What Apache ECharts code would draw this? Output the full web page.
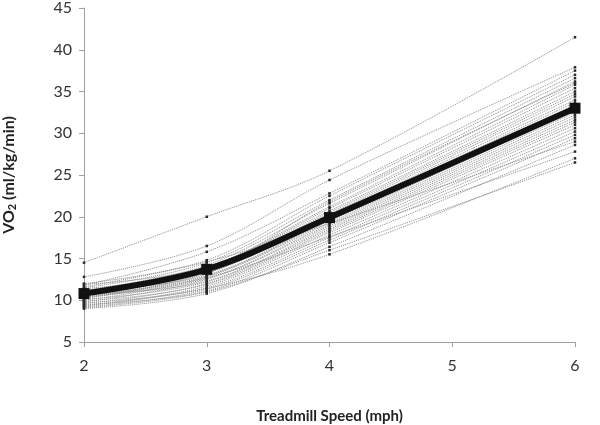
<!DOCTYPE html>
<html>
<head>
<meta charset="utf-8">
<script src="https://cdn.jsdelivr.net/npm/echarts@6/dist/echarts.min.js"></script>
<style>html,body{margin:0;padding:0;background:#fff}#c{width:600px;height:425px}</style>
</head>
<body>
<div id="c"></div>
<script>
var speeds = [2, 3, 4, 6];
var xTicks = [2, 3, 4, 5, 6];
var yTicks = [5, 10, 15, 20, 25, 30, 35, 40, 45];
var meanVO2 = [10.8, 13.7, 19.9, 33.0];
var subjects = [
  [14.5, 20.0, 25.5, 41.5],
  [12.8, 16.5, 24.4, 37.9],
  [11.8, 15.8, 22.8, 37.5],
  [12.0, 14.8, 22.5, 37.0],
  [11.5, 14.5, 22.0, 36.6],
  [11.2, 14.2, 21.6, 36.2],
  [11.9, 14.0, 21.2, 35.8],
  [11.0, 13.8, 21.0, 35.4],
  [10.8, 13.9, 20.7, 35.0],
  [11.4, 13.6, 20.5, 34.7],
  [10.5, 13.5, 20.3, 34.4],
  [10.9, 13.3, 20.1, 34.0],
  [10.2, 13.2, 19.9, 33.7],
  [11.1, 13.0, 19.7, 33.4],
  [10.6, 12.9, 19.5, 33.1],
  [10.0, 12.8, 19.3, 32.8],
  [10.4, 12.6, 19.1, 32.5],
  [9.8, 12.5, 18.9, 32.2],
  [10.7, 12.3, 18.7, 31.9],
  [10.1, 12.2, 18.5, 31.6],
  [9.6, 12.0, 18.3, 31.3],
  [9.9, 11.9, 18.1, 31.0],
  [9.4, 11.7, 17.8, 30.6],
  [9.7, 11.5, 17.5, 30.2],
  [9.2, 11.3, 17.2, 29.8],
  [9.5, 11.1, 16.9, 29.4],
  [9.0, 10.8, 16.4, 28.6],
  [9.3, 11.4, 15.5, 27.0],
  [9.1, 11.0, 16.0, 26.5],
  [10.3, 12.7, 17.6, 27.8],
  [11.6, 14.6, 19.2, 29.0],
  [10.4, 13.4, 21.8, 36.0]
];
var xTitle = 'Treadmill Speed (mph)';

function pairs(vals) { return speeds.map(function (s, i) { return [s, vals[i]]; }); }

var series = subjects.map(function (v) {
  return {
    type: 'line', data: pairs(v), smooth: 0.35,
    symbol: 'rect', symbolSize: 2.5,
    itemStyle: { color: '#2a2a2a' },
    lineStyle: { color: '#8a8a8a', width: 1, type: 'dotted' },
    emphasis: { disabled: true }, silent: true, z: 2
  };
});
series.push({
  type: 'line', data: pairs(meanVO2), smooth: 0.35,
  symbol: 'rect', symbolSize: 11,
  itemStyle: { color: '#111' },
  lineStyle: { color: '#111', width: 6 },
  silent: true, z: 5
});

var font = 'Lato, "Open Sans", sans-serif';
var chart = echarts.init(document.getElementById('c'), null, { renderer: 'canvas' });
chart.setOption({
  animation: false,
  backgroundColor: '#fff',
  grid: { left: 84, right: 25, top: 8, bottom: 83, containLabel: false, outerBoundsMode: 'none' },
  xAxis: {
    type: 'value', min: 2, max: 6, interval: 1,
    name: xTitle, nameLocation: 'middle', nameGap: 67,
    nameTextStyle: { fontFamily: font, fontWeight: 'bold', fontSize: 15, color: '#222' },
    axisLine: { lineStyle: { color: '#a0a0a0' } },
    axisTick: { show: true, inside: false, length: 5, lineStyle: { color: '#a0a0a0' } },
    axisLabel: { fontFamily: font, fontSize: 16, color: '#333', margin: 16,
      formatter: function (v) { return xTicks.indexOf(v) >= 0 ? String(v) : ''; } },
    splitLine: { show: false }
  },
  yAxis: {
    type: 'value', min: 5, max: 45, interval: 5,
    name: '{a|VO}{s|2}{a| (ml/kg/min)}', nameLocation: 'middle', nameGap: 66, nameRotate: 90,
    nameTextStyle: { rich: {
      a: { fontFamily: font, fontWeight: 'bold', fontSize: 16, color: '#222' },
      s: { fontFamily: font, fontWeight: 'bold', fontSize: 11, color: '#222', padding: [8, 0, 0, 0] }
    } },
    axisLine: { show: true, lineStyle: { color: '#a0a0a0' } },
    axisTick: { show: true, inside: false, length: 5, lineStyle: { color: '#a0a0a0' } },
    axisLabel: { fontFamily: font, fontSize: 16, color: '#333', margin: 12,
      formatter: function (v) { return yTicks.indexOf(v) >= 0 ? String(v) : ''; } },
    splitLine: { show: false }
  },
  series: series
});
</script>
</body>
</html>
